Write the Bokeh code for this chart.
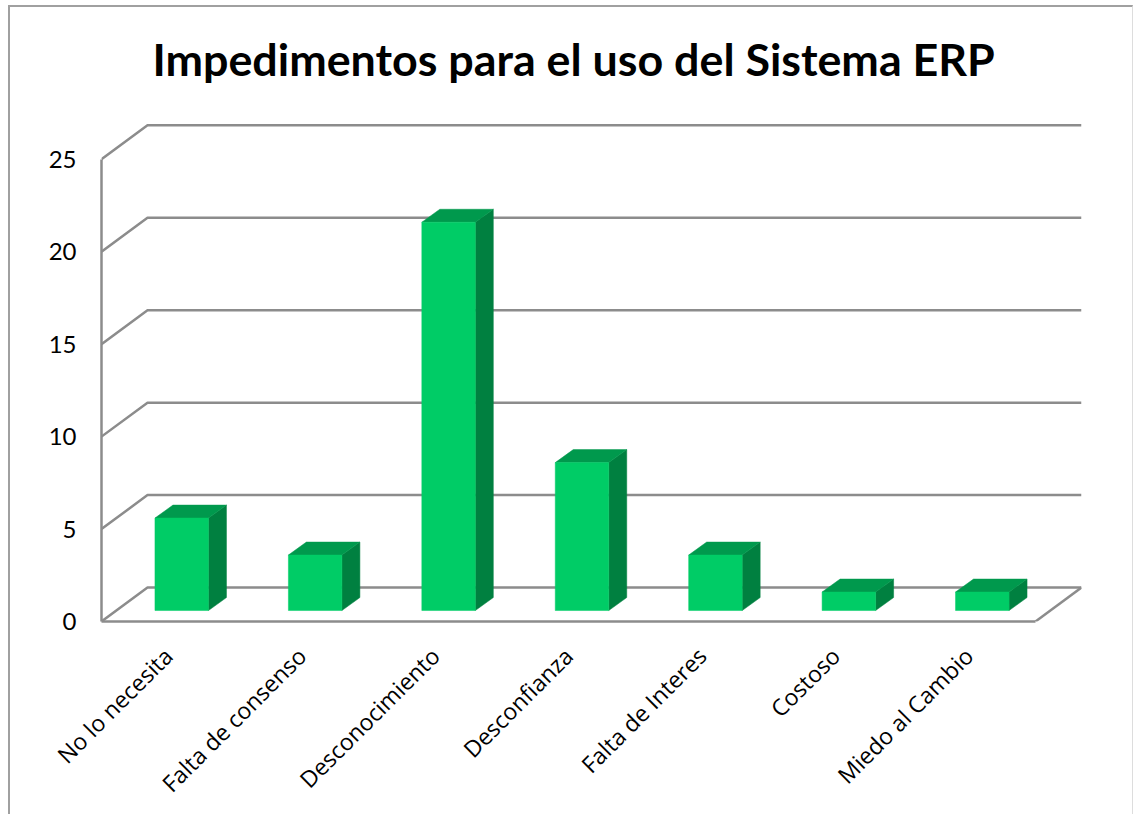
from bokeh.plotting import figure
from bokeh.models import Range1d, FixedTicker, Label
from bokeh.embed import file_html
from bokeh.resources import INLINE
import math

categories = ["No lo necesita", "Falta de consenso", "Desconocimiento", "Desconfianza",
              "Falta de Interes", "Costoso", "Miedo al Cambio"]
values = [5, 3, 21, 8, 3, 1, 1]
y_ticks = [0, 5, 10, 15, 20, 25]
title_text = "Impedimentos para el uso del Sistema ERP"

# layout, in axis units
PX_X = 133.43
PX_Y = 18.52
WALL_DX = 46 / PX_X
WALL_DY = 34 / PX_Y
BAR_SET_X = 13.5 / PX_X
BAR_SET_Y = 11 / PX_Y
BAR_W = 53.5 / PX_X
BAR_DX = 18 / PX_X
BAR_DY = 13 / PX_Y
HEADROOM = 115 / PX_Y
TITLE_X = 51 / PX_X
TITLE_Y = 563 / PX_Y
N = len(categories)

GRID = "#8c8c8c"
FRONT = "#00CC66"
SIDE = "#008040"
TOP = "#00994D"

p = figure(width=1125, height=809, output_backend="svg", toolbar_location=None,
           x_range=Range1d(0, N + WALL_DX), y_range=Range1d(0, 25 + WALL_DY + HEADROOM),
           min_border_left=91, min_border_right=54, min_border_top=3, min_border_bottom=195,
           outline_line_color=None, background_fill_color="white", border_fill_color="white",
           margin=(5, 0, 0, 8),
           styles={"border-left": "2px solid #a0a0a0", "border-top": "2px solid #a0a0a0",
                   "border-right": "1px solid #dddddd"})
p.grid.visible = False

# title
p.add_layout(Label(x=TITLE_X, y=TITLE_Y, text=title_text, text_font="Lato", text_font_style="bold",
                   text_font_size="44.8px", text_color="black", text_align="left",
                   text_baseline="middle"))

# walls and floor
for v in y_ticks:
    p.line([0, WALL_DX, N + WALL_DX], [v, v + WALL_DY, v + WALL_DY], line_color=GRID, line_width=2.5)
p.line([N + WALL_DX, N], [WALL_DY, 0], line_color=GRID, line_width=2.5)

# bars
centers = [i + 0.5 + BAR_SET_X for i in range(N)]
lefts = [c - BAR_W / 2 for c in centers]
rights = [c + BAR_W / 2 for c in centers]
base = BAR_SET_Y
tops = [v + base for v in values]
p.patches([[r, r + BAR_DX, r + BAR_DX, r] for r in rights],
          [[base, base + BAR_DY, t_ + BAR_DY, t_] for t_ in tops],
          fill_color=SIDE, line_color=SIDE, line_width=0.5)
p.patches([[l, l + BAR_DX, r + BAR_DX, r] for l, r in zip(lefts, rights)],
          [[t_, t_ + BAR_DY, t_ + BAR_DY, t_] for t_ in tops],
          fill_color=TOP, line_color=TOP, line_width=0.5)
p.vbar(x=centers, width=BAR_W, bottom=base, top=tops, fill_color=FRONT, line_color=FRONT, line_width=0.5)

# axes
ya = p.yaxis[0]
ya.ticker = FixedTicker(ticks=y_ticks)
ya.bounds = (0, 25)
ya.axis_line_color = GRID
ya.axis_line_width = 2.5
ya.major_tick_line_color = None
ya.minor_tick_line_color = None
ya.major_label_standoff = 19
ya.major_label_text_font = "Lato"
ya.major_label_text_font_size = "24px"
ya.major_label_text_color = "black"

xa = p.xaxis[0]
xa.ticker = FixedTicker(ticks=[i + 0.5 for i in range(N)])
xa.major_label_overrides = {i + 0.5: c for i, c in enumerate(categories)}
xa.bounds = (0, N)
xa.axis_line_color = GRID
xa.axis_line_width = 2.5
xa.major_tick_line_color = None
xa.minor_tick_line_color = None
xa.major_label_orientation = math.pi / 4
xa.major_label_standoff = 24
xa.major_label_text_font = "Open Sans"
xa.major_label_text_font_size = "23px"
xa.major_label_text_color = "black"

open("out.html", "w").write(file_html(p, INLINE))
